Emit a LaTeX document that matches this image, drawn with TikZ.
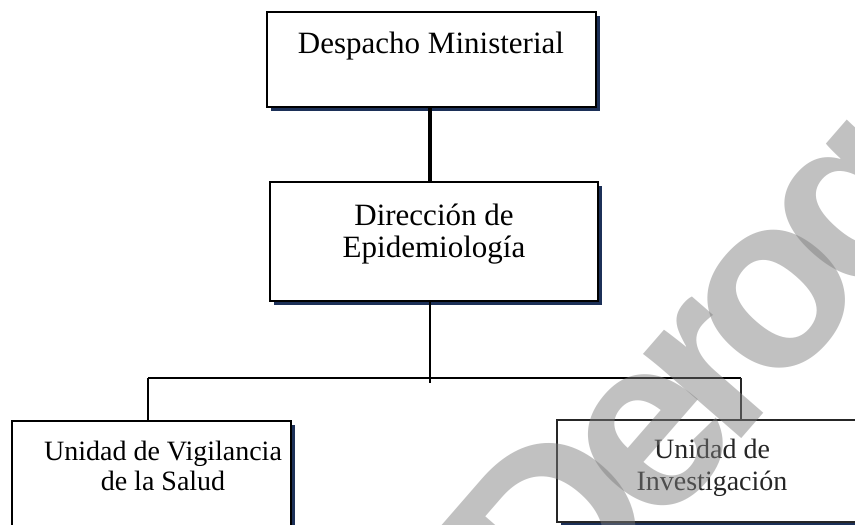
\documentclass[tikz,border=0pt]{standalone}
\usepackage{fontspec}
\setmainfont{Liberation Serif}
\newfontfamily\wmfont{Liberation Sans}
\usetikzlibrary{shadows,calc}
\definecolor{shade}{RGB}{28,48,88}
\definecolor{wmgray}{RGB}{125,125,125}
\tikzset{
  box/.style={draw=black, line width=2pt, fill=white, inner sep=0pt,
    drop shadow={shadow xshift=3.5pt, shadow yshift=-3.5pt, fill=shade, opacity=1}},
  lbl/.style={font=\fontsize{31}{32}\selectfont, inner sep=0pt, anchor=base},
  lbls/.style={font=\fontsize{28}{30}\selectfont, inner sep=0pt, anchor=base},
  conn/.style={line width=2pt},
  thickconn/.style={line width=3.2pt},
  wm/.style={font=\wmfont\bfseries\fontsize{245}{245}\selectfont, text=wmgray,
    text opacity=0.48, inner sep=0pt, anchor=base, rotate=49}
}
\begin{document}
\begin{tikzpicture}[x=1pt,y=-1pt]
\useasboundingbox (0,0) rectangle (855,525);
\clip (0,0) rectangle (855,525);
% boxes
\node[box, minimum width=329pt, minimum height=95pt] (b1) at (431.5,59.5) {};
\node[box, minimum width=328pt, minimum height=119pt] (b2) at (434,241.5) {};
\node[box, minimum width=279pt, minimum height=107pt] (b3) at (151.5,474.5) {};
\node[box, draw=black!85, minimum width=310pt, minimum height=102pt] (b4) at (712,471) {};
% connectors
\coordinate (j) at (430,378);
\coordinate (jl) at (148,378);
\coordinate (jr) at (741,378);
\coordinate (jend) at (430,383);
\draw[thickconn] (b1.south -| j) -- (b2.north -| j);
\draw[conn] (b2.south -| j) -- (jend);
\draw[conn] (jl) -- (jr);
\draw[conn] (jl) -- (b3.north -| jl);
\draw[conn, black!85] (jr) -- (b4.north -| jr);
% labels
\node[lbl] (t1) at (431,53) {Despacho Ministerial};
\node[lbl] (t2a) at (434,225) {Dirección de};
\node[lbl] (t2b) at (434,257) {Epidemiología};
\node[lbls] (t3a) at (163,460) {Unidad de Vigilancia};
\node[lbls] (t3b) at (163,490) {de la Salud};
\node[lbls, text=black!85] (t4a) at (712,458) {Unidad de};
\node[lbls, text=black!85] (t4b) at (712,490) {Investigación};
% watermark
\node[wm] (w1) at (616.9,582.1) {D};
\node[wm] (w2) at (702.8,483.3) {e};
\node[wm] (w3) at (761.9,415.3) {r};
\node[wm] (w4) at (825.4,342.2) {o};
\node[wm] (w5) at (906.8,248.6) {g};
\node[wm] (w6) at (983.7,160.0) {a};
\node[wm] (w7) at (1060.6,71.4) {d};
\node[wm] (w8) at (1142,-22.2) {o};
\end{tikzpicture}
\end{document}
